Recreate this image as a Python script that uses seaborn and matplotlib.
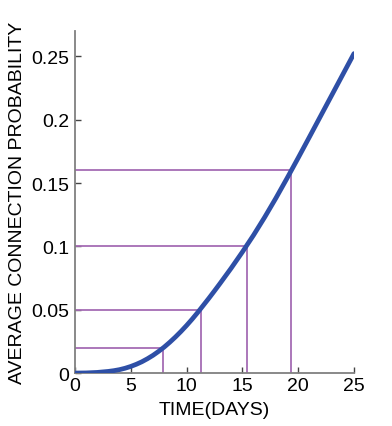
import numpy as np
import pandas as pd
import matplotlib
matplotlib.use("Agg")
import matplotlib.pyplot as plt
import seaborn as sns

# DATA
days = [0, 1, 2, 3, 3.5, 4, 4.5, 5, 5.5, 6, 6.5, 7, 7.5, 8, 8.5, 9, 9.5, 10, 10.5, 11, 11.5, 12,
        12.5, 13, 14, 15, 16, 17, 18, 19, 20, 21, 22, 23, 24, 25]
prob = [0, 0.0001, 0.0005, 0.0013, 0.0019, 0.0027, 0.0038, 0.0052, 0.0069, 0.0089, 0.0113, 0.014,
        0.0171, 0.0205, 0.0243, 0.0284, 0.0328, 0.0375, 0.0425, 0.0478, 0.0534, 0.059, 0.0648,
        0.0707, 0.0828, 0.0955, 0.1088, 0.123, 0.138, 0.1537, 0.1698, 0.1862, 0.2027, 0.2192,
        0.2357, 0.2522]

# guide lines: probability level and day it is reached
target_prob = [0.02, 0.05, 0.10, 0.16]
target_days = [7.85, 11.3, 15.4, 19.4]

xticks = [0, 5, 10, 15, 20, 25]
yticks = [0, 0.05, 0.1, 0.15, 0.2, 0.25]
ytick_labels = ["0", "0.05", "0.1", "0.15", "0.2", "0.25"]

df = pd.DataFrame({"days": days, "prob": prob})

sns.set_style("white")
plt.rcParams["font.family"] = ["Liberation Sans", "DejaVu Sans"]

fig = plt.figure(figsize=(3.92, 4.27), dpi=100)
ax = fig.add_axes([0.191, 0.124, 0.712, 0.801])

# GUIDE LINES
purple = "#a56cb4"
ax.hlines(target_prob, 0, target_days, color=purple, lw=1.3, zorder=1)
ax.vlines(target_days, 0, target_prob, color=purple, lw=1.3, zorder=1)

# CURVE
sns.lineplot(data=df, x="days", y="prob", ax=ax, color="#2e4fa6", lw=3.4, zorder=3,
             solid_capstyle="round", solid_joinstyle="round")

ax.set_xlim(0, 25)
ax.set_ylim(0, 0.27)
ax.set_xticks(xticks)
ax.set_yticks(yticks)
ax.set_yticklabels(ytick_labels)
ax.set_xlabel("TIME(DAYS)", fontsize=14, labelpad=5, color="black")
ax.set_ylabel("AVERAGE CONNECTION PROBABILITY", fontsize=14, labelpad=4, color="black")

for s in ["top", "right"]:
    ax.spines[s].set_visible(False)
for s in ["left", "bottom"]:
    ax.spines[s].set_color("#808080")
    ax.spines[s].set_linewidth(1.3)
ax.tick_params(direction="in", length=4, width=1, color="#444444", labelsize=14,
               labelcolor="black", bottom=True, left=True)
ax.tick_params(axis="x", pad=3)
ax.tick_params(axis="y", pad=4)

fig.savefig("out.png", dpi=100)
